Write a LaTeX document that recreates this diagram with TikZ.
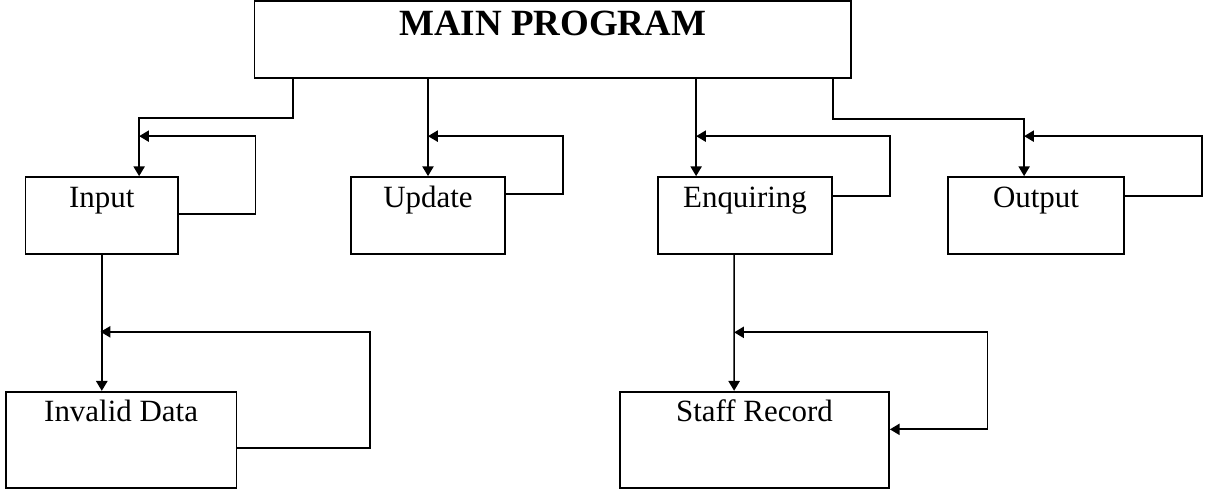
\documentclass[tikz,border=0pt]{standalone}
\usepackage{fontspec}
\setmainfont{Liberation Serif}
\usepackage{tikz}
\usetikzlibrary{positioning, arrows.meta, calc}

\begin{document}
\begin{tikzpicture}[x=0.025cm, y=-0.025cm, line width=1.2pt, blk/.style={draw, inner sep=0pt, text height=0.775cm, text depth=1.15cm, font=\fontsize{22}{26}\selectfont},blk2/.style={blk, text height=0.75cm, text depth=1.65cm},ttl/.style={draw, inner sep=0pt, text height=0.875cm, text depth=1.05cm, font=\fontsize{26.3}{30}\selectfont\bfseries},arr/.style={-{Triangle[length=7pt,width=8pt]}},arr2/.style={{Triangle[length=7pt,width=8pt]}-{Triangle[length=7pt,width=8pt]}}]
\useasboundingbox (0,0) rectangle (1206,498);
\node[ttl, minimum width=14.91cm] (main) at (552.7,39.5) {MAIN PROGRAM};
\node[blk, minimum width=3.81cm] (input) at (101.8,215.5) {Input};
\node[blk, minimum width=3.85cm] (update) at (428,215.5) {Update};
\node[blk, minimum width=4.35cm] (enq) at (745,215.5) {Enquiring};
\node[blk, minimum width=4.4cm] (output) at (1036,215.5) {Output};
\node[blk2, minimum width=5.77cm] (invalid) at (121.1,439.7) {Invalid Data};
\node[blk2, minimum width=6.725cm] (staff) at (754.5,439.7) {Staff Record};
% main program to the four modules
\draw[arr] ($(main.south west)+(39.5,0)$) -- ++(0,39) -| ($(input.north west)+(114.4,0)$);
\draw[arr] (main.south -| update.north) -- (update.north);
\draw[arr] ($(main.south -| enq.north west)+(39,0)$) -- ($(enq.north west)+(39,0)$);
\draw[arr] ($(main.south east)+(-19,0)$) -- ++(0,40) -| ($(output.north west)+(77,0)$);
% loops
\draw[arr] ($(input.north east)+(0,38)$) -- ++(76.5,0) |- ($(input.north west)+(114.4,-40)$);
\draw[arr] ($(update.north east)+(0,18)$) -- ++(57,0) |- ($(update.north)+(0,-40)$);
\draw[arr] ($(enq.north east)+(0,20)$) -- ++(57,0) |- ($(enq.north west)+(39,-40)$);
\draw[arr] ($(output.north east)+(0,20)$) -- ++(77,0) |- ($(output.north west)+(77,-40)$);
% second level
\draw[arr] (input.south) -- (input.south |- invalid.north);
\draw[arr] ($(invalid.north east)+(0,57)$) -- ++(132.5,0) |- ($(invalid.north west)+(95.7,-59)$);
\draw[arr] ($(enq.south west)+(77,0)$) -- ($(staff.north west)+(115,0)$);
\draw[arr2] ($(staff.north east)+(0,38.5)$) -- ++(97.5,0) |- ($(staff.north west)+(115,-58.5)$);
\end{tikzpicture}
\end{document}
